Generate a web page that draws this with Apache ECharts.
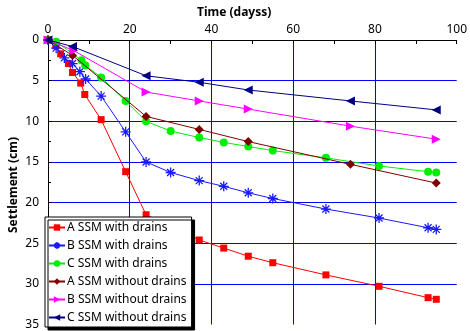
<!DOCTYPE html>
<html>
<head>
<meta charset="utf-8">
<script src="https://cdn.jsdelivr.net/npm/echarts@6/dist/echarts.min.js"></script>
<style>html,body{margin:0;padding:0;background:#fff}#c{width:470px;height:331px}</style>
</head>
<body>
<div id="c"></div>
<script>
// Series names
const seriesNames = ['A SSM with drains','B SSM with drains','C SSM with drains','A SSM without drains','B SSM without drains','C SSM without drains'];

// Days (x) and settlement (cm, y) per series
const aDrainDays = [0, 1.9, 3.1, 5, 6, 8, 9, 13, 19, 24, 37, 43, 49, 55, 68, 81, 93, 95];
const aDrainSet  = [0, 0.7, 1.7, 2.9, 4.0, 5.3, 6.7, 9.8, 16.2, 21.5, 24.6, 25.6, 26.6, 27.4, 28.9, 30.3, 31.7, 31.9];

const bDrainDays = [0, 2, 4, 6, 7.8, 9.2, 13, 19, 24, 30, 37, 43, 49, 55, 68, 81, 93, 95];
const bDrainSet  = [0, 1.0, 2.2, 2.9, 3.9, 4.8, 6.9, 11.3, 15.0, 16.3, 17.3, 18.0, 18.8, 19.5, 20.8, 21.9, 23.1, 23.3];

const cDrainDays = [0, 2, 8.2, 9.1, 13, 19, 24, 30, 37, 43, 49, 55, 68, 81, 93, 95];
const cDrainSet  = [0, 0.2, 2.5, 3.1, 4.6, 7.5, 10.0, 11.2, 12.0, 12.6, 13.1, 13.6, 14.5, 15.5, 16.2, 16.3];

const aNoDays = [0, 6, 24, 37, 49, 74, 95];
const aNoSet  = [0, 1.9, 9.4, 11.0, 12.5, 15.3, 17.6];

const bNoDays = [0, 6.3, 24, 37, 49, 74, 95];
const bNoSet  = [0, 1.3, 6.4, 7.5, 8.5, 10.6, 12.2];

const cNoDays = [0, 6, 24, 37, 49, 74, 95];
const cNoSet  = [0, 0.8, 4.4, 5.2, 6.15, 7.5, 8.6];

// Axis tick values
const xTicks = [0, 20, 40, 60, 80, 100];
const yTicks = [0, 5, 10, 15, 20, 25, 30, 35];

function pairs(xs, ys) { return xs.map((x, i) => [x, ys[i]]); }

const FONT = 'Noto Sans';
const star = 'path://M-1,0L1,0M0,-1L0,1M-0.7,-0.7L0.7,0.7M-0.7,0.7L0.7,-0.7';

const styles = [
  {color: '#ff0000', symbol: 'rect', size: 7, rot: 0},
  {color: '#1a1aff', symbol: star, size: 10, rot: 0, stroke: true},
  {color: '#00ee00', symbol: 'circle', size: 8, rot: 0},
  {color: '#800000', symbol: 'diamond', size: 9, rot: 0},
  {color: '#ff00ff', symbol: 'triangle', size: 9, rot: -90},
  {color: '#000080', symbol: 'triangle', size: 9, rot: 90}
];
const datasets = [
  pairs(aDrainDays, aDrainSet), pairs(bDrainDays, bDrainSet), pairs(cDrainDays, cDrainSet),
  pairs(aNoDays, aNoSet), pairs(bNoDays, bNoSet), pairs(cNoDays, cNoSet)
];

const series = datasets.map((d, i) => {
  const s = styles[i];
  return {
    name: seriesNames[i], type: 'line', data: d,
    symbol: s.symbol, symbolSize: s.size, symbolRotate: s.rot,
    showAllSymbol: true,
    lineStyle: {color: s.color, width: 1},
    itemStyle: s.stroke ? {color: s.color, borderColor: s.color, borderWidth: 1.3} : {color: s.color},
    emphasis: {disabled: true},
    animation: false, z: 3 + i
  };
});

const chart = echarts.init(document.getElementById('c'));
chart.setOption({
  animation: false,
  backgroundColor: '#fff',
  grid: {left: 48, top: 40, right: 9, bottom: 6.5},
  xAxis: {
    type: 'value', position: 'top', min: 0, max: 100, interval: 20,
    axisLine: {show: true, lineStyle: {color: '#000', width: 1}},
    axisTick: {show: true, inside: true, length: 4, lineStyle: {color: '#000'}},
    minorTick: {show: true, splitNumber: 2, length: 4, lineStyle: {color: '#000'}},
    axisLabel: {color: '#000', fontSize: 12, fontFamily: FONT, margin: 4,
      formatter: v => xTicks.includes(v) ? String(v) : ''},
    splitLine: {show: true, showMinLine: false, showMaxLine: false, lineStyle: {color: '#0000ff', width: 1}}
  },
  yAxis: {
    type: 'value', inverse: true, min: 0, max: 35, interval: 5,
    axisLine: {show: true, lineStyle: {color: '#000', width: 1}},
    axisTick: {show: true, inside: true, length: 4, lineStyle: {color: '#000'}},
    minorTick: {show: true, splitNumber: 2, length: 3, lineStyle: {color: '#000'}},
    axisLabel: {color: '#000', fontSize: 12, fontFamily: FONT, margin: 9,
      formatter: v => yTicks.includes(v) ? String(v) : ''},
    splitLine: {show: true, showMinLine: false, showMaxLine: false, lineStyle: {color: '#0000ff', width: 1}}
  },
  legend: {
    orient: 'vertical', left: 45, top: 217,
    data: seriesNames,
    backgroundColor: '#fff', borderColor: '#000', borderWidth: 1,
    padding: [4, 5, 3, 3],
    shadowColor: 'rgba(0,0,0,1)', shadowBlur: 0, shadowOffsetX: 3, shadowOffsetY: 3,
    itemWidth: 16, itemHeight: 8, itemGap: 5,
    textStyle: {color: '#000', fontSize: 12, fontFamily: FONT, lineHeight: 13, padding: [0, 0, 0, -3]},
    selectedMode: false
  },
  graphic: [
    {type: 'text', left: 197, top: 7, style: {text: 'Time (dayss)', font: 'bold 12px "Noto Sans"', fill: '#000'}},
    {type: 'text', x: 8, y: 233, rotation: Math.PI / 2,
      style: {text: 'Settlement (cm)', font: 'bold 12px "Noto Sans"', fill: '#000', align: 'left', verticalAlign: 'top'},
      origin: [0, 0]}
  ],
  series: series
});
</script>
</body>
</html>
